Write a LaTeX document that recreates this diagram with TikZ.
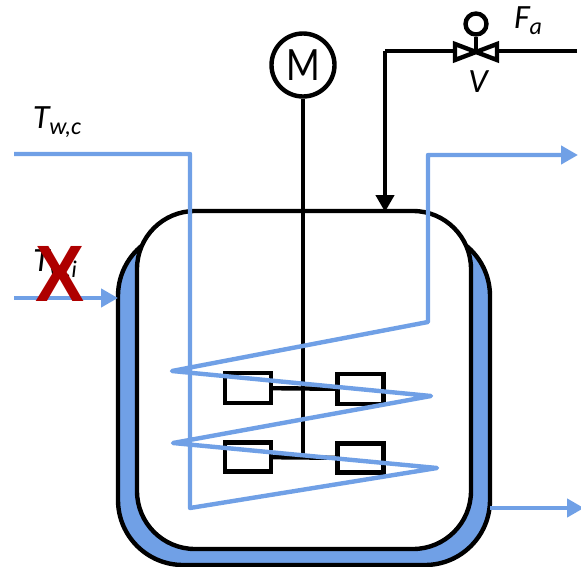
\documentclass[tikz,border=0pt]{standalone}
\usepackage{fontspec}
\setmainfont{Carlito}
\newfontfamily\crossfont{Liberation Sans}
\usepackage{tikz}
\usetikzlibrary{arrows.meta}
\definecolor{coolblue}{HTML}{70A0E6}
\definecolor{crossred}{HTML}{AE0000}
\newcommand{\varlabel}[2]{\fontsize{34}{34}\selectfont\itshape #1\raisebox{-6pt}{\fontsize{24}{24}\selectfont #2}}
\tikzset{
  blackline/.style={line width=4.4pt, black},
  blueline/.style={line width=4.4pt, coolblue},
  tipped/.style={-{Triangle[length=17pt, width=18pt]}},
  vessel/.style={draw=black, line width=4.4pt, rectangle, inner sep=0pt},
  blade/.style={draw=black, fill=white, line width=4.4pt, rectangle, inner sep=0pt, minimum width=46pt},
  valvehalf/.style={draw=black, fill=white, line width=4.4pt, line join=miter}
}
\begin{document}
\begin{tikzpicture}[x=1pt, y=-1pt]
    \useasboundingbox (0, 0) rectangle (581, 567);
    \node[vessel, fill=coolblue, rounded corners=65pt, minimum width=372pt, minimum height=334pt] (jacket) at (304, 398){};
    \node[vessel, fill=white, rounded corners=58pt, minimum width=334pt, minimum height=338pt] (tank) at (304, 380){};

    \node[draw=black, fill=white, line width=4.4pt, circle, minimum size=63pt, inner sep=0pt, font=\fontsize{48}{48}\selectfont] (M) at (303, 65){\scalebox{0.82}[1]{M}};
    \coordinate (hub) at (303, 458);
    \draw[blackline] (M)--(hub);
    \node[blade, minimum height=30pt] (B1) at (248, 388){};
    \node[blade, minimum height=30pt] (B2) at (360.5, 389){};
    \node[blade, minimum height=29pt] (B3) at (248, 457){};
    \node[blade, minimum height=29pt] (B4) at (360.5, 458){};
    \draw[blackline] (B1)--(B2);
    \draw[blackline] (B3)--(B4);

    \coordinate (feed) at (577, 51);
    \coordinate (feedcorner) at (385, 51);
    \coordinate (valve) at (476, 52);
    \coordinate (tanktop) at (385, 212);
    \draw[blackline] (feed)--(feedcorner);
    \draw[blackline, line join=round, tipped] (feedcorner)--(tanktop);
    \node[draw=black, fill=white, line width=4.4pt, circle, minimum size=21pt, inner sep=0pt] (stem) at (476, 24){};
    \draw[blackline] (stem)--(valve);
    \draw[valvehalf] (valve)--(455, 44)--(455, 60)--cycle;
    \draw[valvehalf] (valve)--(497, 44)--(497, 60)--cycle;

    \coordinate (Cin) at (14, 154);
    \coordinate (C1) at (190, 154);
    \coordinate (C2) at (190, 508);
    \coordinate (C3) at (437, 468);
    \coordinate (C4) at (173, 443);
    \coordinate (C5) at (431, 396);
    \coordinate (C6) at (172, 371);
    \coordinate (C7) at (428, 322);
    \coordinate (C8) at (428, 155);
    \coordinate (Cout) at (578, 155);
    \draw[blueline, line join=round, tipped] (Cin)--(C1)--(C2)--(C3)--(C4)--(C5)--(C6)--(C7)--(C8)--(Cout);
    \coordinate (Jin) at (14, 298);
    \coordinate (Jinend) at (118, 298);
    \coordinate (Jout) at (490, 508);
    \coordinate (Joutend) at (584, 508);
    \draw[blueline, tipped] (Jin)--(Jinend);
    \draw[blueline, tipped] (Jout)--(Joutend);

    \node (Fa) at (528, 21){\varlabel{F}{a}};
    \node (V) at (478, 82){\fontsize{34}{34}\selectfont\itshape V};
    \node (Twc) at (57, 122){\varlabel{T}{w,c}};
    \node (Twi) at (55, 265){\varlabel{T}{w,i}};
    \node[text=crossred, xscale=0.92, font=\crossfont\bfseries\fontsize{80}{80}\selectfont] (cross) at (60, 274){X};
  \end{tikzpicture}
\end{document}
